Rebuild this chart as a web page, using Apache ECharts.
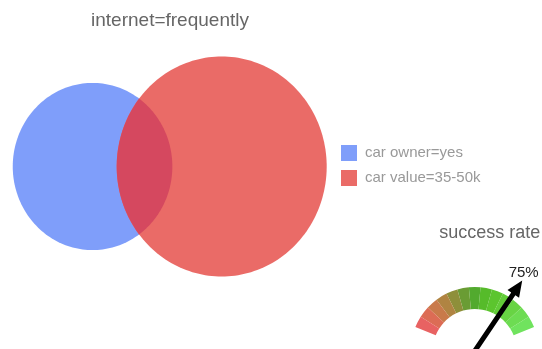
<!DOCTYPE html>
<html>
<head>
<meta charset="utf-8">
<script src="https://cdn.jsdelivr.net/npm/echarts@6/dist/echarts.min.js"></script>
<style>
html,body{margin:0;padding:0;background:#fff;}
#main{width:542px;height:349px;}
</style>
</head>
<body>
<div id="main"></div>
<script>
// ---- data ----
const vennTitle = 'internet=frequently';
const setNames = ['car owner=yes', 'car value=35-50k'];
const setCenterX = [-1.23, 0];
const setCenterY = [0, 0];
const setRadius = [0.76, 1];
const gaugeTitle = 'success rate';
const gaugeValue = 75;

// ---- styles ----
const FONT = '"Liberation Sans", Arial, sans-serif';
const setColors = ['#7f9efa', '#ea6b67'];
const overlapColor = '#d5485f';
const gaugeColors = ['#e86262','#dc6c55','#c97a4a','#b08442','#8e8f3a','#6a9c34','#52aa2e','#56bb2a','#5cc52e','#62cc38','#68d444','#6ddc52','#70e35e'];

function circleItem(params, api) {
  const cx = api.value(0), cy = api.value(1), r = api.value(2);
  const pts = [];
  const N = 200;
  for (let i = 0; i < N; i++) {
    const t = i / N * 2 * Math.PI;
    pts.push(api.coord([cx + r * Math.cos(t), cy + r * Math.sin(t)]));
  }
  return { type: 'polygon', shape: { points: pts }, style: { fill: api.visual('color') } };
}

function lensItem(params, api) {
  const ax = setCenterX[0], ay = setCenterY[0], ra = setRadius[0];
  const bx = setCenterX[1], by = setCenterY[1], rb = setRadius[1];
  const dx = bx - ax, dy = by - ay;
  const d = Math.sqrt(dx * dx + dy * dy);
  const a = (d * d + ra * ra - rb * rb) / (2 * d);
  const h = Math.sqrt(Math.max(ra * ra - a * a, 0));
  const phi = Math.atan2(dy, dx);
  const alpha = Math.atan2(h, a);
  const beta = Math.atan2(h, d - a);
  const pts = [];
  const N = 100;
  for (let i = 0; i <= N; i++) {
    const t = phi - alpha + 2 * alpha * i / N;
    pts.push(api.coord([ax + ra * Math.cos(t), ay + ra * Math.sin(t)]));
  }
  for (let i = 0; i <= N; i++) {
    const t = phi + Math.PI - beta + 2 * beta * i / N;
    pts.push(api.coord([bx + rb * Math.cos(t), by + rb * Math.sin(t)]));
  }
  return { type: 'polygon', shape: { points: pts }, style: { fill: overlapColor } };
}

const n = gaugeColors.length;
const gaugeStops = gaugeColors.map((c, i) => [(i + 1) / n, c]);

const chart = echarts.init(document.getElementById('main'), null, { renderer: 'canvas' });
chart.setOption({
  animation: false,
  backgroundColor: '#fff',
  title: {
    text: vennTitle,
    left: 170,
    textAlign: 'center',
    top: 11,
    padding: 0,
    textStyle: { fontFamily: FONT, fontSize: 19, fontWeight: 'normal', color: '#666' }
  },
  legend: {
    data: setNames,
    orient: 'vertical',
    left: 341,
    top: 145,
    padding: 0,
    itemWidth: 16,
    itemHeight: 16,
    itemGap: 9,
    icon: 'rect',
    selectedMode: false,
    textStyle: { fontFamily: FONT, fontSize: 15, color: '#999', padding: [0, 0, 0, 3] }
  },
  grid: { left: 11.7, width: 315, top: 56.5, height: 220 },
  xAxis: { type: 'value', min: -2, max: 1, show: false },
  yAxis: { type: 'value', min: -1, max: 1, show: false },
  series: [
    {
      type: 'custom', name: setNames[0], clip: false,
      itemStyle: { color: setColors[0] },
      renderItem: circleItem,
      data: [[setCenterX[0], setCenterY[0], setRadius[0]]],
      encode: { x: 0, y: 1 }, z: 1
    },
    {
      type: 'custom', name: setNames[1], clip: false,
      itemStyle: { color: setColors[1] },
      renderItem: circleItem,
      data: [[setCenterX[1], setCenterY[1], setRadius[1]]],
      encode: { x: 0, y: 1 }, z: 2
    },
    {
      type: 'custom', name: 'overlap', clip: false,
      renderItem: lensItem,
      data: [[0, 0]],
      encode: { x: 0, y: 1 }, z: 3
    },
    {
      type: 'gauge',
      center: [474.7, 351],
      radius: 64,
      startAngle: 158,
      endAngle: 22,
      min: 0,
      max: 100,
      axisLine: { lineStyle: { width: 22, color: gaugeStops } },
      splitLine: { show: false },
      axisTick: { show: false },
      axisLabel: { show: false },
      anchor: { show: false },
      pointer: {
        icon: 'path://M7,0 L14,16 L9.5,16 L9.5,85 L4.5,85 L4.5,16 L0,16 Z',
        length: 85,
        width: 14,
        itemStyle: { color: '#000' }
      },
      title: {
        offsetCenter: [15, -118],
        fontFamily: FONT, fontSize: 18, fontWeight: 'normal', color: '#666'
      },
      detail: {
        formatter: '{value}%',
        offsetCenter: [49, -78],
        fontFamily: FONT, fontSize: 15, fontWeight: 'normal', color: '#222'
      },
      data: [{ value: gaugeValue, name: gaugeTitle }]
    }
  ]
});
</script>
</body>
</html>
